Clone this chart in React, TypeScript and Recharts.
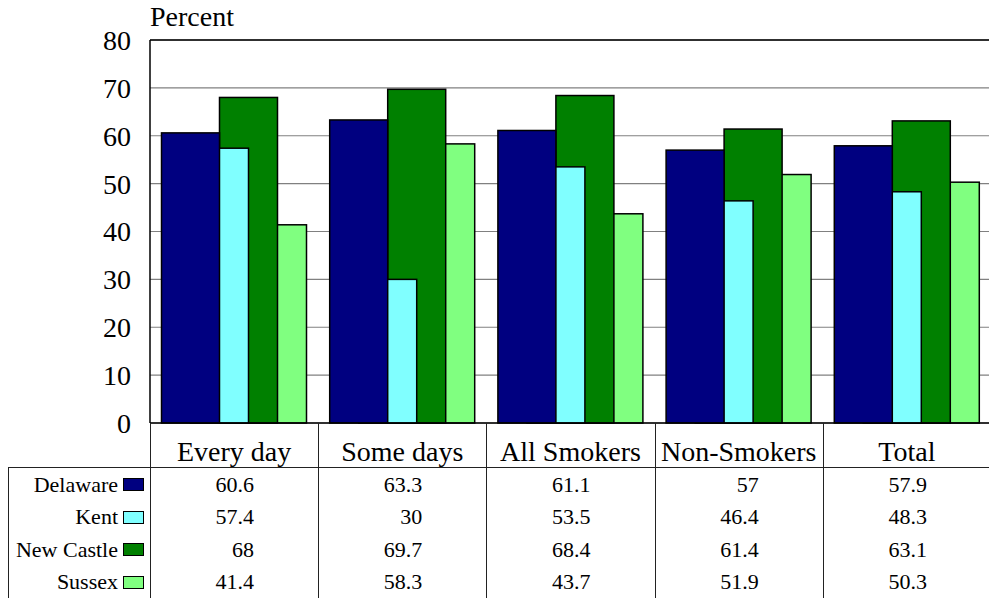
import { BarChart, Bar, XAxis, YAxis, CartesianGrid, ReferenceLine } from 'recharts';

const categories = ['Every day', 'Some days', 'All Smokers', 'Non-Smokers', 'Total'];
const delaware = [60.6, 63.3, 61.1, 57, 57.9];
const kent = [57.4, 30, 53.5, 46.4, 48.3];
const newCastle = [68, 69.7, 68.4, 61.4, 63.1];
const sussex = [41.4, 58.3, 43.7, 51.9, 50.3];
const yTicks = [0, 10, 20, 30, 40, 50, 60, 70, 80];

const series = [
    { key: 'delaware', name: 'Delaware', values: delaware, color: '#000080' },
    { key: 'kent', name: 'Kent', values: kent, color: '#80ffff' },
    { key: 'newCastle', name: 'New Castle', values: newCastle, color: '#008000' },
    { key: 'sussex', name: 'Sussex', values: sussex, color: '#80ff80' },
];

const data = categories.map((category, i) => {
    const row: Record<string, string | number> = { category };
    series.forEach((s) => {
        row[s.key] = s.values[i];
    });
    return row;
});

const FONT = '"Liberation Serif", "Times New Roman", serif';
const CHART_W = 991;
const CHART_H = 598;
const PLOT_LEFT = 150;
const PLOT_TOP = 40;
const PLOT_BOTTOM = 423;
const COL_W = (CHART_W - PLOT_LEFT) / categories.length;
const ROW_STEP = 32.5;
const ROW_BASE = 492;

// bars overlap by half their width; the first series sits on top
const shifted = (k: number) => (props: any) => {
    const { x, y, width, height, fill } = props;
    if (!height) return <g />;
    return (
        <rect
            x={x + (k * width) / 2}
            y={y}
            width={width}
            height={height}
            fill={fill}
            stroke="#000"
            strokeWidth={1.5}
        />
    );
};

export default function App() {
    return (
        <div
            style={{
                position: 'absolute',
                left: 0,
                top: 0,
                width: 989,
                height: 598,
                overflow: 'hidden',
                fontFamily: FONT,
                color: '#000',
                background: '#fff',
            }}
        >
            <div style={{ position: 'absolute', left: 150, top: 2.5, fontSize: 28, lineHeight: '28px' }}>Percent</div>
            <BarChart
                width={CHART_W}
                height={CHART_H}
                data={data}
                margin={{ top: PLOT_TOP, right: 0, left: PLOT_LEFT - 60, bottom: CHART_H - PLOT_BOTTOM }}
            >
                {series.map((s, i) => (
                    <XAxis key={s.key} xAxisId={i} dataKey="category" hide />
                ))}
                <YAxis
                    width={60}
                    domain={[0, 80]}
                    ticks={yTicks}
                    tickLine={false}
                    tickSize={17}
                    tickMargin={2}
                    axisLine={{ stroke: '#000', strokeWidth: 1.5 }}
                    tick={{ fontSize: 28, fill: '#000', fontFamily: FONT }}
                />
                <CartesianGrid xAxisId={0} vertical={false} stroke="#808080" strokeWidth={1.2} />
                <ReferenceLine xAxisId={0} y={80} stroke="#000" strokeWidth={1.5} />
                {[...series].reverse().map((s) => {
                    const i = series.indexOf(s);
                    return (
                        <Bar
                            key={s.key}
                            xAxisId={i}
                            dataKey={s.key}
                            name={s.name}
                            fill={s.color}
                            barSize={58}
                            shape={shifted(i - 1.5)}
                            isAnimationActive={false}
                        />
                    );
                })}
                <ReferenceLine xAxisId={0} y={0} stroke="#000" strokeWidth={1.5} />
            </BarChart>

            {/* data table under the plot */}
            <div style={{ position: 'absolute', left: 8, top: 467, width: 981, height: 1, background: '#222' }} />
            <div style={{ position: 'absolute', left: 8, top: 467, width: 1, height: 131, background: '#222' }} />
            {categories.map((c, i) => (
                <div
                    key={`line-${c}`}
                    style={{
                        position: 'absolute',
                        left: PLOT_LEFT + i * COL_W,
                        top: PLOT_BOTTOM,
                        width: 1,
                        height: CHART_H - PLOT_BOTTOM,
                        background: '#222',
                    }}
                />
            ))}
            {categories.map((c, i) => (
                <div
                    key={`cat-${c}`}
                    style={{
                        position: 'absolute',
                        left: PLOT_LEFT + i * COL_W,
                        top: 461 - 23.45,
                        width: COL_W,
                        textAlign: 'center',
                        fontSize: 28,
                        lineHeight: '28px',
                        whiteSpace: 'nowrap',
                    }}
                >
                    {c}
                </div>
            ))}
            {series.map((s, r) => (
                <div key={`row-${s.key}`}>
                    <div
                        style={{
                            position: 'absolute',
                            right: 989 - 118,
                            top: ROW_BASE + r * ROW_STEP - 18.4,
                            fontSize: 22,
                            lineHeight: '22px',
                            whiteSpace: 'nowrap',
                        }}
                    >
                        {s.name}
                    </div>
                    <div
                        style={{
                            position: 'absolute',
                            left: 123,
                            top: ROW_BASE + r * ROW_STEP - 14,
                            width: 19,
                            height: 11,
                            background: s.color,
                            border: '1.5px solid #000',
                        }}
                    />
                    {s.values.map((v, i) => (
                        <div
                            key={`${s.key}-${i}`}
                            style={{
                                position: 'absolute',
                                left: PLOT_LEFT + (i + 0.5) * COL_W - 22,
                                top: ROW_BASE + r * ROW_STEP - 18.4,
                                width: 42,
                                textAlign: 'right',
                                fontSize: 22,
                                lineHeight: '22px',
                                whiteSpace: 'nowrap',
                            }}
                        >
                            {v}
                        </div>
                    ))}
                </div>
            ))}
        </div>
    );
}
